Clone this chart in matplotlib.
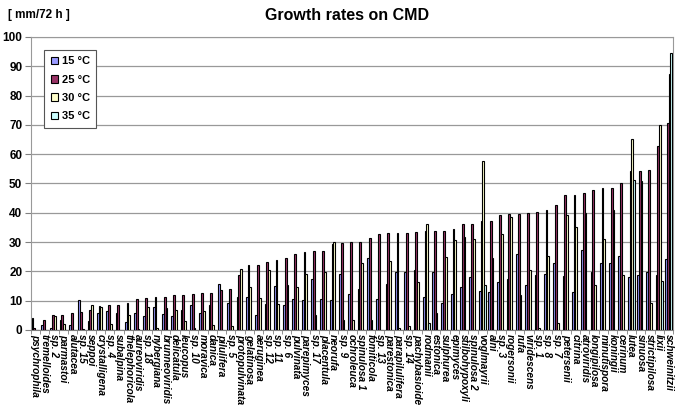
import numpy as np
import matplotlib
matplotlib.use("Agg")
import matplotlib.pyplot as plt

species = ["psychrophila", "tremelloides", "sp. 2", "parmastoi", "alutacea", "sp. 15",
           "seppoi", "crystalligena", "sp. 4", "subalpina", "thelephoricola", "aureoviridis",
           "sp. 18", "nybergiana", "brunneoviridis", "delicatula", "leucopus", "sp. 10",
           "moravica", "danica", "pilulifera", "sp. 5", "protopulvinata", "gelatinosa",
           "aeruginea", "sp. 12", "sp. 11", "sp. 6", "pulvinata", "parepimyces", "sp. 17",
           "placentula", "neorufa", "sp. 9", "ochroleuca", "spinulosa 1", "fomiticola",
           "sp. 13", "parestonica", "parapilulifera", "sp. 14", "pachybasioide", "rodmanii",
           "estonica", "sulphurea", "epimyces", "stilbohypoxyli", "spinulosa 2", "voglmayrii",
           "alni", "sp. 3", "rogersonii", "rufa", "viridescens", "sp. 1", "sp. 8", "sp. 7",
           "petersenii", "citrina", "atroviridis", "longipilosa", "minutispora", "koningii",
           "cerinum", "lutea", "sinuosa", "strictipilosa", "lixii", "schweinitzii"]

t15 = [4.2, 1.7, 0.5, 3.5, 1.6, 10.1, 3.1, 5.9, 6.4, 5.9, 2.8, 5.9, 4.8, 7.8, 5.5, 4.9,
       6.7, 8.4, 5.8, 8.4, 15.7, 9.1, 11.3, 11.3, 5.0, 8.8, 14.9, 8.4, 10.7, 10.1, 17.3,
       10.7, 10.1, 19.2, 12.2, 14.1, 24.4, 10.7, 15.8, 19.6, 19.6, 20.4, 11.3, 19.6, 9.1,
       12.4, 14.5, 17.9, 13.2, 12.8, 16.2, 17.5, 25.8, 15.5, 18.7, 19.2, 22.7, 18.3, 12.8,
       27.2, 19.8, 22.7, 23.0, 25.2, 18.1, 18.7, 19.9, 18.7, 24.1]
t25 = [0.8, 3.3, 5.0, 5.2, 5.9, 6.0, 6.7, 8.1, 8.5, 8.6, 9.3, 10.5, 10.9, 11.1, 11.2, 11.8,
       12.0, 12.3, 12.5, 12.7, 13.5, 13.8, 18.7, 22.3, 22.3, 23.2, 23.7, 24.4, 25.8, 26.6,
       26.9, 27.1, 29.2, 29.5, 30.0, 30.0, 31.5, 32.6, 33.1, 33.1, 33.2, 33.5, 33.7, 33.7,
       33.7, 34.3, 36.3, 36.3, 37.2, 37.2, 39.1, 39.4, 39.7, 39.9, 40.3, 40.9, 42.8, 46.0,
       46.1, 46.9, 47.8, 48.5, 48.5, 50.3, 54.2, 54.3, 54.7, 62.8, 70.7]
t30 = [0, 0, 4.8, 2.0, 0.1, 0.4, 8.6, 7.7, 1.9, 0, 5.2, 0.2, 7.7, 0.6, 7.4, 6.8, 3.2, 0.5,
       6.4, 1.8, 0, 1.2, 20.9, 14.7, 10.9, 20.4, 9.0, 15.3, 14.5, 19.2, 5.0, 19.8, 30.0, 3.3,
       3.3, 22.7, 3.3, 0, 23.4, 0.8, 1.4, 16.4, 36.3, 5.9, 24.9, 30.6, 31.7, 31.2, 57.6,
       24.7, 32.9, 38.6, 11.8, 20.4, 0.8, 25.3, 2.5, 39.1, 35.2, 39.8, 15.3, 30.9, 41.1,
       18.6, 65.0, 50.7, 9.1, 69.9, 87.3]
t35 = [0] * 42 + [2.5] + [0] * 5 + [15.5] + [0] * 15 + [51.2, 0, 0, 16.6, 94.4]

plt.rcParams['font.family'] = ['Liberation Sans', 'DejaVu Sans']
plt.rcParams['font.weight'] = 'bold'

fig = plt.figure(figsize=(6.8, 4.15), dpi=100)
ax = fig.add_axes([0.045, 0.205, 0.945, 0.706])

x = np.arange(len(species))
w = 0.19
series = [(t15, "15 °C", "#9999FF"), (t25, "25 °C", "#993366"),
          (t30, "30 °C", "#FFFFCC"), (t35, "35 °C", "#CCFFFF")]
for i, (vals, name, col) in enumerate(series):
    ax.bar(x + (i - 1.5) * w, vals, w, color=col, edgecolor="black", linewidth=0.8,
           label=name, zorder=3)

ax.set_xlim(-0.5, len(species) - 0.5)
ax.set_ylim(0, 100)
ax.set_yticks(range(0, 101, 10))
ax.yaxis.grid(True, color="#999999", linewidth=0.9, zorder=0)
ax.set_xticks(x)
ax.set_xticklabels(species, rotation=-90, fontsize=7.3, style="italic",
                   ha="center", va="top")
ax.set_xticks(np.arange(-0.5, len(species), 1), minor=True)
ax.tick_params(axis="x", which="major", length=0, pad=3)
ax.tick_params(axis="x", which="minor", length=3, color="#808080")
ax.tick_params(axis="y", labelsize=8.5, length=4, color="#808080", pad=2)
for s in ax.spines.values():
    s.set_color("#999999")
ax.spines["bottom"].set_color("#808080")

leg = ax.legend(loc="upper left", bbox_to_anchor=(0.012, 0.975), fontsize=8,
                handlelength=0.7, handleheight=0.7, handletextpad=0.3,
                labelspacing=0.75, borderpad=0.6, fancybox=False, framealpha=1)
leg.get_frame().set_edgecolor("#555555")
leg.get_frame().set_linewidth(0.8)

fig.text(0.51, 0.962, "Growth rates on CMD", ha="center", va="center", fontsize=11.5,
         fontweight="bold")
fig.text(0.012, 0.963, "[ mm/72 h ]", ha="left", va="center", fontsize=8.5,
         fontweight="bold")

fig.savefig("out.png", dpi=100)
